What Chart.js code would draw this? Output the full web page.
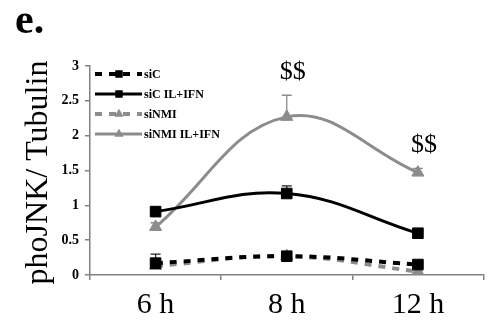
<!DOCTYPE html>
<html>
<head>
<meta charset="utf-8">
<script src="https://cdn.jsdelivr.net/npm/chart.js@4/dist/chart.umd.min.js"></script>
<style>
html,body{margin:0;padding:0;background:#fff;}
#wrap{width:492px;height:324px;position:relative;}
</style>
</head>
<body>
<div id="wrap"><canvas id="c" width="492" height="324"></canvas></div>
<script>
const categories = ['6 h', '8 h', '12 h'];
const seriesNames = ['siC', 'siC IL+IFN', 'siNMI', 'siNMI IL+IFN'];
const siC = [0.17, 0.27, 0.15];
const siC_IL = [0.91, 1.17, 0.60];
const siNMI = [0.13, 0.27, 0.05];
const siNMI_IL = [0.69, 2.27, 1.47];
const siC_err = [0.13, 0.03, 0.02];
const siC_IL_err = [0.03, 0.11, 0.02];
const siNMI_err = [0.02, 0.02, 0.02];
const siNMI_IL_err = [0.06, 0.31, 0.06];
const sigLabels = ['', '$$', '$$'];
const yTicks = [0, 0.5, 1, 1.5, 2, 2.5, 3];
const yTickLabels = ['0', '0.5', '1', '1.5', '2', '2.5', '3'];
const panelLabel = 'e.';
const yTitle = 'phoJNK/ Tubulin';

const BLACK = '#000000';
const GRAY = '#8c8c8c';
const SERIF = '"Liberation Serif", "Times New Roman", serif';

function ds(label, data, err, color, style, dashed) {
  return {
    label, data, err,
    borderColor: color, backgroundColor: color,
    pointBackgroundColor: color, pointBorderColor: color,
    pointStyle: style,
    pointRadius: style === 'rect' ? 7.5 : 7,
    pointBorderWidth: 1,
    borderWidth: dashed ? 4 : 3,
    borderDash: dashed ? [7, 7] : [],
    tension: 0.4,
    fill: false
  };
}

const errPlugin = {
  id: 'errbars',
  beforeDatasetsDraw(chart) {
    const ctx = chart.ctx;
    const y = chart.scales.y;
    chart.data.datasets.forEach((d, i) => {
      const meta = chart.getDatasetMeta(i);
      meta.data.forEach((pt, j) => {
        const top = y.getPixelForValue(d.data[j] + d.err[j]);
        ctx.save();
        ctx.strokeStyle = d.borderColor === GRAY ? GRAY : '#222';
        ctx.lineWidth = 1.3;
        ctx.beginPath();
        ctx.moveTo(pt.x, pt.y);
        ctx.lineTo(pt.x, top);
        ctx.moveTo(pt.x - 5, top);
        ctx.lineTo(pt.x + 5, top);
        ctx.stroke();
        ctx.restore();
      });
    });
  },
  afterDraw(chart) {
    const ctx = chart.ctx;
    const x = chart.scales.x, y = chart.scales.y;
    const d = chart.data.datasets[3];
    ctx.save();
    ctx.fillStyle = '#000';
    ctx.font = '26px ' + SERIF;
    ctx.textAlign = 'center';
    ctx.textBaseline = 'middle';
    sigLabels.forEach((s, j) => {
      if (!s) return;
      const px = x.getPixelForValue(j) + 6;
      const py = y.getPixelForValue(d.data[j] + d.err[j]) - 23;
      ctx.fillText(s, px, py);
    });
    // panel label
    ctx.font = 'bold 42px ' + SERIF;
    ctx.textAlign = 'left';
    ctx.textBaseline = 'alphabetic';
    ctx.fillText(panelLabel, 15, 33);
    // y title
    ctx.save();
    ctx.translate(39, (y.top + y.bottom) / 2 + 2);
    ctx.rotate(-Math.PI / 2);
    ctx.textAlign = 'center';
    ctx.textBaseline = 'middle';
    ctx.font = '32px ' + SERIF;
    ctx.fillText(yTitle, 0, 0);
    ctx.restore();
    // legend
    const lx = chart.chartArea.left + 5;
    const ly0 = y.getPixelForValue(3) + 8;
    chart.data.datasets.forEach((dd, i) => {
      const ly = ly0 + i * 20;
      ctx.save();
      ctx.strokeStyle = dd.borderColor;
      ctx.lineWidth = dd.borderWidth;
      ctx.setLineDash(dd.borderDash);
      ctx.beginPath();
      ctx.moveTo(lx, ly);
      ctx.lineTo(lx + 47, ly);
      ctx.stroke();
      ctx.setLineDash([]);
      ctx.fillStyle = dd.borderColor;
      Chart.helpers.drawPoint(ctx, {pointStyle: dd.pointStyle, radius: 5, borderWidth: 0}, lx + 24, ly);
      ctx.fill();
      ctx.fillStyle = '#000';
      ctx.font = 'bold 12px ' + SERIF;
      ctx.textBaseline = 'middle';
      ctx.textAlign = 'left';
      ctx.fillText(dd.label, lx + 49, ly + 1);
      ctx.restore();
    });
    ctx.restore();
  }
};

new Chart(document.getElementById('c'), {
  type: 'line',
  data: {
    labels: categories,
    datasets: [
      ds(seriesNames[0], siC, siC_err, BLACK, 'rect', true),
      ds(seriesNames[1], siC_IL, siC_IL_err, BLACK, 'rect', false),
      ds(seriesNames[2], siNMI, siNMI_err, GRAY, 'triangle', true),
      ds(seriesNames[3], siNMI_IL, siNMI_IL_err, GRAY, 'triangle', false)
    ]
  },
  options: {
    responsive: false,
    animation: false,
    devicePixelRatio: 1,
    layout: { padding: { top: 66, right: 2, left: 0, bottom: 0 } },
    plugins: { legend: { display: false }, tooltip: { enabled: false } },
    scales: {
      x: {
        offset: true,
        grid: { offset: true, drawOnChartArea: false, drawTicks: true, tickLength: 5, color: '#808080', lineWidth: 1.5 },
        border: { color: '#808080', width: 1.5 },
        ticks: { color: '#000', padding: 7, font: { family: SERIF, size: 30 } },
        afterFit: s => { s.height = 49; }
      },
      y: {
        min: 0, max: 3,
        afterBuildTicks: s => { s.ticks = yTicks.map(v => ({ value: v })); },
        grid: { drawOnChartArea: false, drawTicks: true, tickLength: 5, color: '#808080', lineWidth: 1.5 },
        border: { color: '#808080', width: 1.5 },
        ticks: {
          color: '#000', padding: 6,
          font: { family: SERIF, size: 14, weight: 'bold' },
          callback: (v) => { const k = yTicks.indexOf(v); return k >= 0 ? yTickLabels[k] : ''; }
        },
        afterFit: s => { s.width = 90; }
      }
    }
  },
  plugins: [errPlugin]
});
</script>
</body>
</html>
